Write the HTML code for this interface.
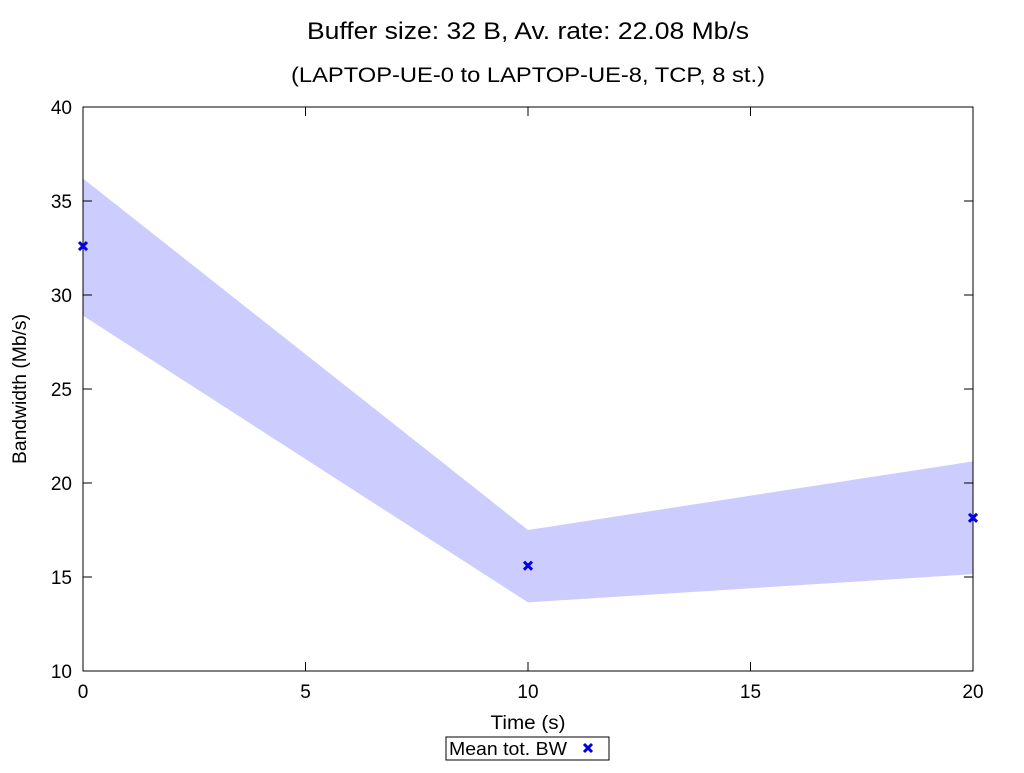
<!DOCTYPE html>
<html><head><meta charset="utf-8"><style>
body{margin:0;background:#fff;}
svg text{font-family:"Liberation Sans",sans-serif;fill:#000;}
</style></head><body>
<svg id="chart" width="1024" height="768" xmlns="http://www.w3.org/2000/svg">
<text x="528" y="39" font-size="24" text-anchor="middle" textLength="442" lengthAdjust="spacingAndGlyphs">Buffer size: 32 B, Av. rate: 22.08 Mb/s</text>
<text x="528" y="82" font-size="21" text-anchor="middle" textLength="474" lengthAdjust="spacingAndGlyphs">(LAPTOP-UE-0 to LAPTOP-UE-8, TCP, 8 st.)</text>
<g id="band"></g>
<rect x="83" y="107" width="890" height="564" fill="none" stroke="#000" stroke-width="1"/>
<g id="ticks"></g>
<g id="marks"></g>
<text x="528" y="729" font-size="19" text-anchor="middle" textLength="75" lengthAdjust="spacingAndGlyphs">Time (s)</text>
<text x="26" y="389" font-size="19" text-anchor="middle" transform="rotate(-90 26 389)" textLength="150" lengthAdjust="spacingAndGlyphs">Bandwidth (Mb/s)</text>
<g>
<rect x="446" y="737" width="163" height="23" fill="#fff" stroke="#000"/>
<text x="449" y="755" font-size="18" textLength="118" lengthAdjust="spacingAndGlyphs">Mean tot. BW</text>
<path d="M584 744 l8 8 M592 744 l-8 8" stroke="#0000e0" stroke-width="3"/>
</g>
</svg>
<script>
const times=[0,10,20];
const meanBW=[32.6,15.6,18.15];
const upperBW=[36.2,17.5,21.15];
const lowerBW=[28.9,13.65,15.15];
const xTicks=[0,5,10,15,20];
const yTicks=[10,15,20,25,30,35,40];
const NS='http://www.w3.org/2000/svg';
const X=v=>83+v/20*890;
const Y=v=>671-(v-10)/30*564;
function mk(t,a,p){const e=document.createElementNS(NS,t);for(const k in a)e.setAttribute(k,a[k]);p.appendChild(e);return e;}
let pts=times.map((t,i)=>X(t)+','+Y(upperBW[i]));
for(let i=times.length-1;i>=0;i--)pts.push(X(times[i])+','+Y(lowerBW[i]));
const band=mk('polygon',{points:pts.join(' '),fill:'#ccccff'},document.getElementById('band'));


const tg=document.getElementById('ticks');
xTicks.forEach(v=>{
 mk('line',{x1:X(v),x2:X(v),y1:671,y2:662,stroke:'#000'},tg);
 mk('line',{x1:X(v),x2:X(v),y1:107,y2:116,stroke:'#000'},tg);
 const t=mk('text',{x:X(v),y:698,'font-size':19,'text-anchor':'middle'},tg);t.textContent=v;
 
 
});
yTicks.forEach(v=>{
 mk('line',{x1:83,x2:92,y1:Y(v),y2:Y(v),stroke:'#000'},tg);
 mk('line',{x1:973,x2:964,y1:Y(v),y2:Y(v),stroke:'#000'},tg);
 const t=mk('text',{x:72,y:Y(v)+7,'font-size':19,'text-anchor':'end'},tg);t.textContent=v;
 
 
});
const mg=document.getElementById('marks');
times.forEach((t,i)=>{
 const x=X(t),y=Y(meanBW[i]);
 const p=mk('path',{d:`M${x-4} ${y-4} l8 8 M${x+4} ${y-4} l-8 8`,stroke:'#0000e0','stroke-width':3},mg);
 
 
});
</script>
</body></html>
